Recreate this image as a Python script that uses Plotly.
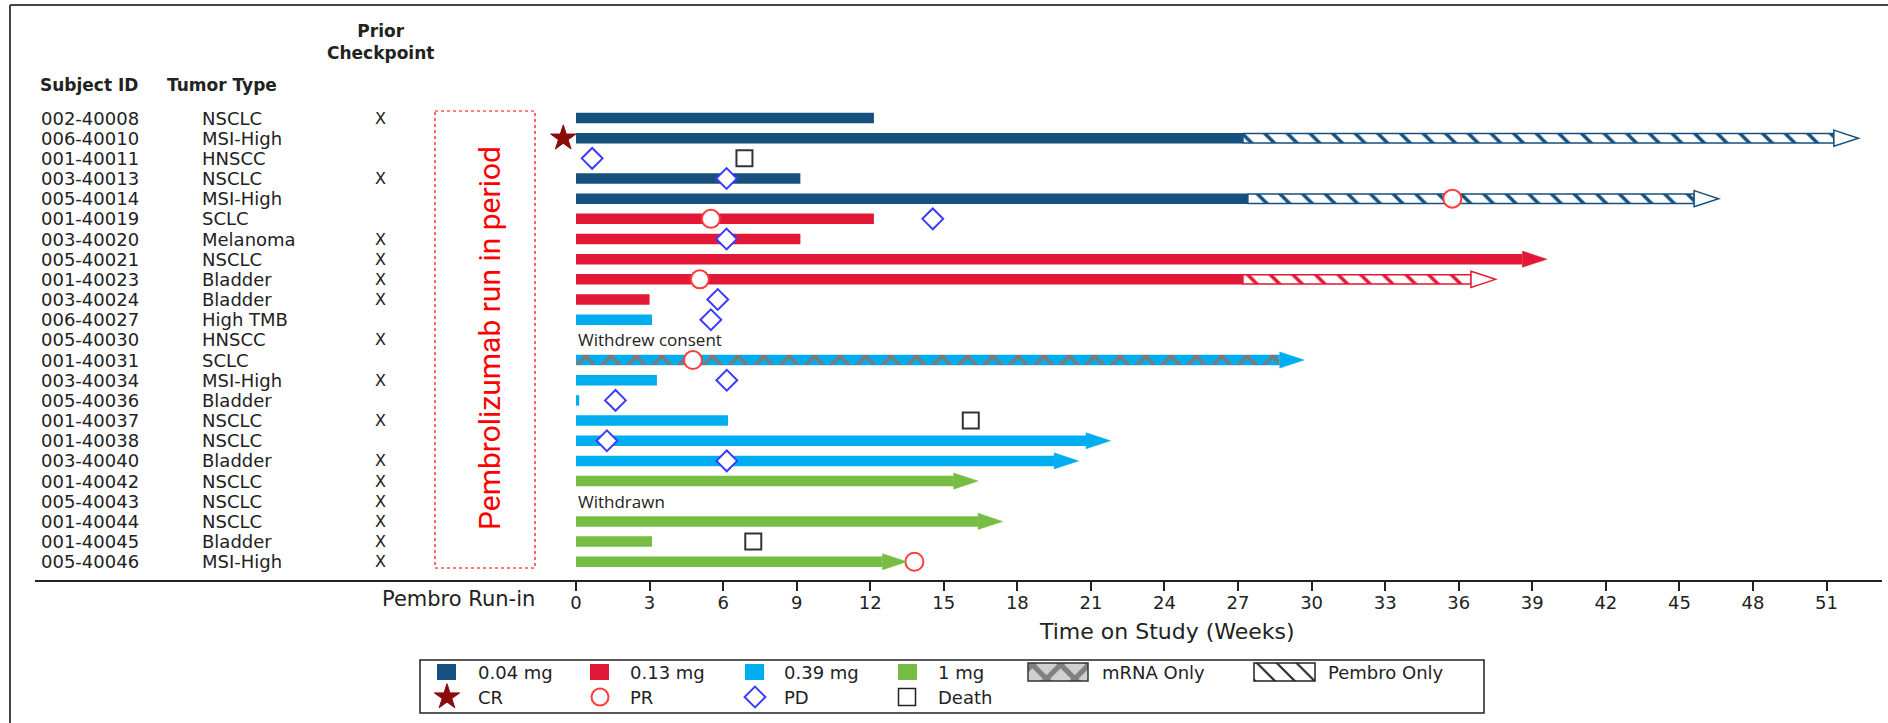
import plotly.graph_objects as go

W, H = 1888, 723

# ---------------- data ----------------
subject_ids = ["002-40008", "006-40010", "001-40011", "003-40013", "005-40014", "001-40019",
               "003-40020", "005-40021", "001-40023", "003-40024", "006-40027", "005-40030",
               "001-40031", "003-40034", "005-40036", "001-40037", "001-40038", "003-40040",
               "001-40042", "005-40043", "001-40044", "001-40045", "005-40046"]
tumor_types = ["NSCLC", "MSI-High", "HNSCC", "NSCLC", "MSI-High", "SCLC", "Melanoma", "NSCLC",
               "Bladder", "Bladder", "High TMB", "HNSCC", "SCLC", "MSI-High", "Bladder", "NSCLC",
               "NSCLC", "Bladder", "NSCLC", "NSCLC", "NSCLC", "Bladder", "MSI-High"]
prior_checkpoint = [1, 0, 0, 1, 0, 0, 1, 1, 1, 1, 0, 1, 0, 1, 0, 1, 0, 1, 1, 1, 1, 1, 1]
dose_groups = ["0.04 mg"] * 5 + ["0.13 mg"] * 5 + ["0.39 mg"] * 8 + ["1 mg"] * 5
# end of treatment bar (arrow tip for ongoing subjects), weeks
bar_end = [12.15, 52.3, None, 9.15, 46.6, 12.15, 9.15, 39.6, 37.5, 3.0, 3.1, None,
           29.7, 3.3, 0.13, 6.2, 21.8, 20.5, 16.4, None, 17.4, 3.1, 13.5]
pembro_only_from = [None, 27.2, None, None, 27.4, None, None, None, 27.2, None, None, None,
                    None, None, None, None, None, None, None, None, None, None, None]
mrna_only = [0] * 12 + [1] + [0] * 10
ongoing = [0, 1, 0, 0, 1, 0, 0, 1, 1, 0, 0, 0, 1, 0, 0, 0, 1, 1, 1, 0, 1, 0, 1]

cr_rows, cr_weeks = [1], [-0.52]
pr_rows = [4, 5, 8, 12, 22]
pr_weeks = [35.74, 5.5, 5.05, 4.77, 13.8]
pd_rows = [2, 3, 5, 6, 9, 10, 13, 14, 16, 17]
pd_weeks = [0.66, 6.14, 14.55, 6.14, 5.78, 5.5, 6.15, 1.61, 1.26, 6.15]
death_rows = [2, 15, 21]
death_weeks = [6.87, 16.1, 7.23]
note_rows = [11, 19]
note_texts = ["Withdrew consent", "Withdrawn"]

x_ticks = list(range(0, 52, 3))
dose_names = ["0.04 mg", "0.13 mg", "0.39 mg", "1 mg"]
dose_colors = ["#15507F", "#E31836", "#00AEEF", "#77BC43"]

# ---------------- geometry ----------------
PX_PER_WEEK = 24.52
X0_PX = 576
ROW0_PX = 118
ROW_PX = 20.17
AXIS_PX = 581
HEAD_WK = 1.0
HEAD_HALF = 0.4
BAR_W = 0.52

x_range = [-X0_PX / PX_PER_WEEK, (W - X0_PX) / PX_PER_WEEK]
y_range = [(AXIS_PX - ROW0_PX) / ROW_PX, -ROW0_PX / ROW_PX]

TXT = "DejaVu Sans"
color_of = dict(zip(dose_names, dose_colors))

fig = go.Figure()
shapes = []
annotations = []

rows = list(range(len(subject_ids)))

# solid bars per dose group
for name, col in zip(dose_names, dose_colors):
    ys, xs, bs = [], [], []
    for i in rows:
        if dose_groups[i] != name or bar_end[i] is None or mrna_only[i]:
            continue
        head = HEAD_WK if ongoing[i] else 0
        solid_end = pembro_only_from[i] if pembro_only_from[i] is not None else bar_end[i] - head
        ys.append(i); bs.append(0); xs.append(solid_end)
    if ys:
        fig.add_trace(go.Bar(orientation="h", y=ys, x=xs, base=bs, width=BAR_W,
                             marker=dict(color=col, line=dict(width=0)),
                             xaxis="x", yaxis="y", hoverinfo="skip"))

# pembro-only hatched segments
for name, col in zip(dose_names, dose_colors):
    ys, xs, bs = [], [], []
    for i in rows:
        if dose_groups[i] != name or pembro_only_from[i] is None:
            continue
        head = HEAD_WK if ongoing[i] else 0
        ys.append(i); bs.append(pembro_only_from[i])
        xs.append(bar_end[i] - head - pembro_only_from[i])
    if ys:
        fig.add_trace(go.Bar(orientation="h", y=ys, x=xs, base=bs, width=BAR_W * 0.9,
                             marker=dict(color="white", line=dict(color=col, width=1.5),
                                         pattern=dict(shape="\\", fgcolor=col, bgcolor="white",
                                                      size=16, solidity=0.22, fillmode="replace")),
                             xaxis="x", yaxis="y", hoverinfo="skip"))

# mRNA-only bars
for i in rows:
    if mrna_only[i] and bar_end[i] is not None:
        col = color_of[dose_groups[i]]
        head = HEAD_WK if ongoing[i] else 0
        fig.add_trace(go.Bar(orientation="h", y=[i], x=[bar_end[i] - head], base=[0], width=BAR_W,
                             marker=dict(color=col, line=dict(width=0),
                                         pattern=dict(shape="x", fgcolor="#7a7a7a", bgcolor=col,
                                                      size=18, solidity=0.35, fillmode="replace")),
                             xaxis="x", yaxis="y", hoverinfo="skip"))

# arrow heads for ongoing subjects
for i in rows:
    if not ongoing[i] or bar_end[i] is None:
        continue
    col = color_of[dose_groups[i]]
    tip = bar_end[i]
    base = tip - HEAD_WK
    hatched = pembro_only_from[i] is not None
    shapes.append(dict(type="path", xref="x", yref="y",
                       path=f"M {base},{i - HEAD_HALF} L {tip},{i} L {base},{i + HEAD_HALF} Z",
                       fillcolor="white" if hatched else col,
                       line=dict(color=col, width=1.5 if hatched else 0.5)))

# response markers
def add_markers(xs, ys, symbol, size, color, line_color, lw, xa="x", ya="y"):
    fig.add_trace(go.Scatter(x=xs, y=ys, mode="markers", xaxis=xa, yaxis=ya,
                             marker=dict(symbol=symbol, size=size, color=color,
                                         line=dict(color=line_color, width=lw)),
                             cliponaxis=False, hoverinfo="skip"))

add_markers(death_weeks, death_rows, "square", 16, "white", "#333333", 2)
add_markers(pd_weeks, pd_rows, "diamond", 16, "white", "#3B3BFF", 2)
add_markers(pr_weeks, pr_rows, "circle", 18, "white", "#FF3B3B", 2)
add_markers(cr_weeks, cr_rows, "star", 19, "#8B0A0A", "#8B0A0A", 1)

# notes
for r, t in zip(note_rows, note_texts):
    annotations.append(dict(xref="x", yref="y", x=0, y=r, text=t, showarrow=False,
                            xanchor="left", yanchor="middle",
                            font=dict(family="Open Sans", size=17, color="#222")))

# ---------------- table ----------------
tfont = dict(family=TXT, size=18, color="#222")
for i in rows:
    annotations.append(dict(xref="x2", yref="y", x=39, y=i, text=subject_ids[i], showarrow=False,
                            xanchor="left", yanchor="middle", font=tfont))
    annotations.append(dict(xref="x2", yref="y", x=200, y=i, text=tumor_types[i], showarrow=False,
                            xanchor="left", yanchor="middle", font=tfont))
    if prior_checkpoint[i]:
        annotations.append(dict(xref="x2", yref="y", x=380, y=i, text="X", showarrow=False,
                                xanchor="center", yanchor="middle", font=dict(family=TXT, size=16, color="#222")))

hdr = dict(family=TXT, size=17, color="#222")
annotations += [
    dict(xref="x2", yref="y2", x=380, y=42, text="<b>Prior</b><br><b>Checkpoint</b>", showarrow=False,
         xanchor="center", yanchor="middle", font=hdr),
    dict(xref="x2", yref="y2", x=38, y=85, text="<b>Subject ID</b>", showarrow=False,
         xanchor="left", yanchor="middle", font=hdr),
    dict(xref="x2", yref="y2", x=165, y=85, text="<b>Tumor Type</b>", showarrow=False,
         xanchor="left", yanchor="middle", font=hdr),
    dict(xref="x2", yref="y2", x=489, y=338, text="Pembrolizumab run in period", showarrow=False,
         textangle=-90, xanchor="center", yanchor="middle",
         font=dict(family="Roboto", size=30, color="#FF0000")),
    dict(xref="x2", yref="y2", x=458, y=599, text="Pembro Run-in", showarrow=False,
         xanchor="center", yanchor="middle", font=dict(family=TXT, size=21, color="#222")),
    dict(xref="x2", yref="y2", x=1167, y=631, text="Time on Study (Weeks)", showarrow=False,
         xanchor="center", yanchor="middle", font=dict(family=TXT, size=22, color="#222")),
]

# frame, run-in box, axis rule
shapes += [
    dict(type="line", xref="x2", yref="y2", x0=10, x1=10, y0=5, y1=H + 5, line=dict(color="#444", width=2)),
    dict(type="line", xref="x2", yref="y2", x0=10, x1=W + 5, y0=5, y1=5, line=dict(color="#444", width=2)),
    dict(type="rect", xref="x2", yref="y2", x0=435, x1=535, y0=111, y1=568,
         line=dict(color="#FF0000", width=1.2, dash="dot")),
    dict(type="line", xref="x2", yref="y2", x0=35, x1=1882, y0=AXIS_PX, y1=AXIS_PX,
         line=dict(color="#222", width=1.8)),
]

# ---------------- legend (drawn manually) ----------------
LG_Y1, LG_Y2 = 672, 697
shapes.append(dict(type="rect", xref="x2", yref="y2", x0=420, x1=1484, y0=660, y1=713,
                   line=dict(color="#222", width=1.5), fillcolor="white", layer="below"))
leg_sw_x = [437, 590, 745, 898]
leg_tx_x = [476, 628, 782, 936]
lfont = dict(family=TXT, size=18, color="#222")
for sx, tx, name, col in zip(leg_sw_x, leg_tx_x, dose_names, dose_colors):
    shapes.append(dict(type="rect", xref="x2", yref="y2", x0=sx, x1=sx + 19, y0=LG_Y1 - 8, y1=LG_Y1 + 8,
                       fillcolor=col, line=dict(width=0)))
    annotations.append(dict(xref="x2", yref="y2", x=tx, y=LG_Y1, text=name, showarrow=False,
                            xanchor="left", yanchor="middle", font=lfont))
# hatched legend swatches as bars on the pixel axes
fig.add_trace(go.Bar(orientation="h", y=[LG_Y1], x=[60], base=[1028], width=18, xaxis="x2", yaxis="y2",
                     marker=dict(color="#d0d0d0", line=dict(color="#333", width=1.5),
                                 pattern=dict(shape="x", fgcolor="#808080", bgcolor="#d0d0d0",
                                              size=20, solidity=0.45, fillmode="replace")),
                     hoverinfo="skip"))
fig.add_trace(go.Bar(orientation="h", y=[LG_Y1], x=[61], base=[1254], width=18, xaxis="x2", yaxis="y2",
                     marker=dict(color="white", line=dict(color="#222", width=1.5),
                                 pattern=dict(shape="\\", fgcolor="#222", bgcolor="white",
                                              size=14, solidity=0.15, fillmode="replace")),
                     hoverinfo="skip"))
annotations.append(dict(xref="x2", yref="y2", x=1100, y=LG_Y1, text="mRNA Only", showarrow=False,
                        xanchor="left", yanchor="middle", font=lfont))
annotations.append(dict(xref="x2", yref="y2", x=1326, y=LG_Y1, text="Pembro Only", showarrow=False,
                        xanchor="left", yanchor="middle", font=lfont))
add_markers([447], [LG_Y2], "star", 19, "#8B0A0A", "#8B0A0A", 1, "x2", "y2")
add_markers([600], [LG_Y2], "circle", 17, "white", "#FF3B3B", 2, "x2", "y2")
add_markers([755], [LG_Y2], "diamond", 16, "white", "#3B3BFF", 2, "x2", "y2")
add_markers([907], [LG_Y2], "square", 17, "white", "#222", 1.5, "x2", "y2")
for tx, t in zip(leg_tx_x, ["CR", "PR", "PD", "Death"]):
    annotations.append(dict(xref="x2", yref="y2", x=tx, y=LG_Y2, text=t, showarrow=False,
                            xanchor="left", yanchor="middle", font=lfont))

fig.update_layout(
    width=W, height=H, margin=dict(l=0, r=0, t=0, b=0),
    paper_bgcolor="white", plot_bgcolor="rgba(0,0,0,0)",
    barmode="overlay", showlegend=False,
    xaxis=dict(domain=[0, 1], range=x_range, tickvals=x_ticks, ticks="outside", ticklen=9,
               tickwidth=1.5, tickcolor="#222", showline=False, showgrid=False, zeroline=False,
               ticklabelstandoff=-4,
               tickfont=dict(family=TXT, size=18, color="#222"), anchor="y", fixedrange=True),
    yaxis=dict(domain=[1 - AXIS_PX / H, 1], range=y_range, visible=False, anchor="x", fixedrange=True),
    xaxis2=dict(domain=[0, 1], range=[0, W], visible=False, anchor="y2", fixedrange=True),
    yaxis2=dict(domain=[0, 1], range=[H, 0], visible=False, anchor="x2", fixedrange=True),
    shapes=shapes, annotations=annotations,
)

fig.write_html("out.html")
